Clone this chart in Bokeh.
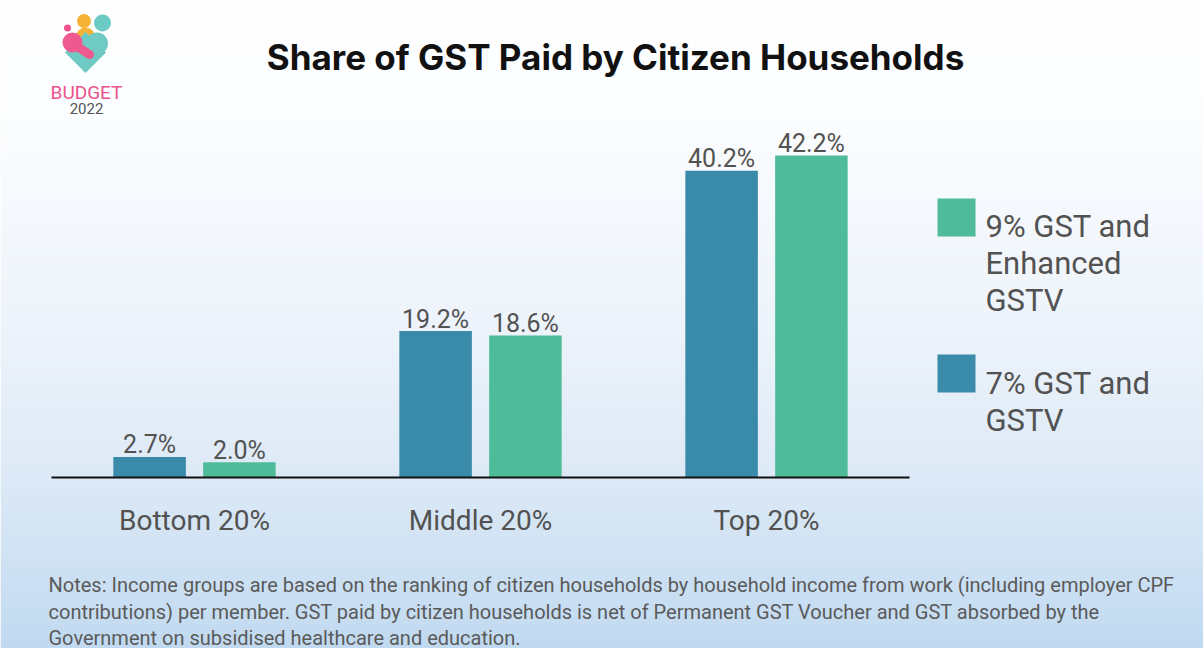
import numpy as np
from bokeh.plotting import figure
from bokeh.models import Range1d, Label, ColumnDataSource
from bokeh.embed import file_html
from bokeh.resources import INLINE
from bokeh.core.properties import value

# ---------------- data ----------------
categories = ["Bottom 20%", "Middle 20%", "Top 20%"]
gst7_gstv = [2.7, 19.2, 40.2]          # 7% GST and GSTV
gst9_enhanced = [2.0, 18.6, 42.2]      # 9% GST and Enhanced GSTV
legend_9 = ["9% GST and", "Enhanced", "GSTV"]
legend_7 = ["7% GST and", "GSTV"]
title_text = "Share of GST Paid by Citizen Households"
notes_lines = [
    "Notes: Income groups are based on the ranking of citizen households by household income from work (including employer CPF",
    "contributions) per member. GST paid by citizen households is net of Permanent GST Voucher and GST absorbed by the",
    "Government on subsidised healthcare and education.",
]

# ---------------- styles ----------------
BLUE = "#3a8aa9"
GREEN = "#4fbc99"
TEXT = "#525252"
FONT = "Roboto"

W, H = 1203, 648
PXG = 286.0     # pixels per category slot
PXV = 7.63      # pixels per percentage point


def X(rx):
    return (rx - 194.0) / PXG


def Y(ry):
    return (477.0 - ry) / PXV


p = figure(width=W, height=H, output_backend="svg", toolbar_location=None,
           x_range=Range1d(X(0), X(W)), y_range=Range1d(Y(H), Y(0)),
           x_axis_location=None, y_axis_location=None, min_border=0,
           outline_line_color=None, background_fill_color="white",
           border_fill_color="white")
p.grid.visible = False

# background gradient
stops_t = [0.0, 0.15, 0.5, 0.75, 1.0]
stops_c = [(255, 255, 255), (253, 254, 255), (238, 244, 251), (220, 233, 246), (193, 218, 241)]
ry = H - (np.arange(H) + 0.5)
t = ry / 648.0
img = np.empty((H, 2), dtype=np.uint32)
view = img.view(dtype=np.uint8).reshape((H, 2, 4))
for ch in range(3):
    col = np.interp(t, stops_t, [c[ch] for c in stops_c])
    view[:, :, ch] = col[:, None].astype(np.uint8)
view[:, :, 3] = 255
p.image_rgba(image=[img], x=X(0), y=Y(H), dw=X(W) - X(0), dh=Y(0) - Y(H))

# bars
idx = np.arange(len(categories))
off = 0.157
bw = 0.2535
src7 = ColumnDataSource(dict(x=idx - off, top=gst7_gstv,
                             lab=[f"{v:.1f}%" for v in gst7_gstv]))
src9 = ColumnDataSource(dict(x=idx + off, top=gst9_enhanced,
                             lab=[f"{v:.1f}%" for v in gst9_enhanced]))
p.vbar(x="x", top="top", width=bw, bottom=0, source=src7, fill_color=BLUE, line_color=None)
p.vbar(x="x", top="top", width=bw, bottom=0, source=src9, fill_color=GREEN, line_color=None)
for s in (src7, src9):
    p.text(x="x", y="top", text="lab", source=s, y_offset=-12, text_align="center",
           text_baseline="alphabetic", text_font=value(FONT), text_font_size="25px",
           text_color=TEXT)

# axis line and category labels
p.segment(x0=[-0.5], x1=[len(categories) - 0.5], y0=[0], y1=[0], line_color="#111111", line_width=2)
p.text(x=idx, y=[0] * len(categories), text=categories, y_offset=43, text_align="center",
       text_baseline="alphabetic", text_font=value(FONT), text_font_size="28px", text_color=TEXT)

# title
p.add_layout(Label(x=X(615), y=Y(56), text=title_text, text_font="Inter", text_font_style="bold",
                   text_font_size="35px", text_color="#111111", text_align="center",
                   text_baseline="alphabetic"))

# legend (manual)
p.scatter(x=[X(956), X(956)], y=[Y(217), Y(373)], marker="square", size=38,
          fill_color=[GREEN, BLUE], line_color=None)
for txt, base in zip(legend_9, [226, 263, 300]):
    p.add_layout(Label(x=X(985), y=Y(base), text=txt, text_font=FONT, text_font_size="31px",
                       text_color=TEXT, text_baseline="alphabetic"))
for txt, base in zip(legend_7, [383, 420]):
    p.add_layout(Label(x=X(985), y=Y(base), text=txt, text_font=FONT, text_font_size="31px",
                       text_color=TEXT, text_baseline="alphabetic"))

# notes
for txt, base in zip(notes_lines, [584, 611, 637]):
    p.add_layout(Label(x=X(48), y=Y(base), text=txt, text_font=FONT, text_font_size="20px",
                       text_color="#5a5a5a", text_baseline="alphabetic"))

# logo
p.scatter(x=[X(85)], y=[Y(37)], size=20, fill_color="#f5b335", line_color=None)
p.scatter(x=[X(83.5)], y=[Y(20.5)], size=14, fill_color="#f5b335", line_color=None)
p.scatter(x=[X(102)], y=[Y(22.5)], size=17, fill_color="#6ccbc4", line_color=None)
p.scatter(x=[X(67)], y=[Y(27.5)], size=7, fill_color="#f0508a", line_color=None)
p.scatter(x=[X(85)], y=[Y(52)], marker="square", angle=np.pi / 4, size=29,
          fill_color="#6fcac3", line_color=None)
p.scatter(x=[X(96.5)], y=[Y(43)], size=22, fill_color="#6fcac3", line_color=None)
p.scatter(x=[X(72)], y=[Y(42)], size=20, fill_color="#ee5a8f", line_color=None)
p.segment(x0=[X(72)], y0=[Y(43)], x1=[X(89)], y1=[Y(54)], line_color="#ee5a8f",
          line_width=9, line_cap="round")
p.add_layout(Label(x=X(86), y=Y(92), text="BUDGET", text_font=FONT, text_font_size="19px",
                   text_color="#e9538b", text_align="center", text_baseline="alphabetic"))
p.add_layout(Label(x=X(86), y=Y(108), text="2022", text_font=FONT, text_font_size="15px",
                   text_color="#555555", text_align="center", text_baseline="alphabetic"))

open("out.html", "w").write(file_html(p, INLINE))
